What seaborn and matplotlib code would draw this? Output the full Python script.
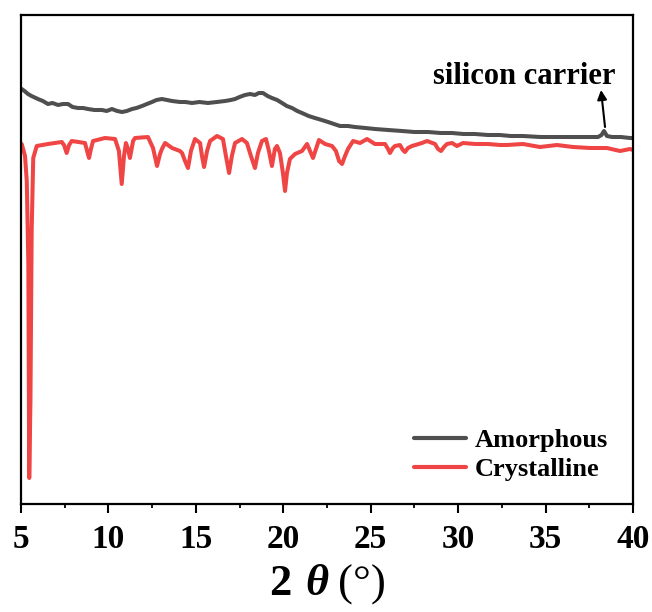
import numpy as np
import pandas as pd
import matplotlib
matplotlib.use("Agg")
import matplotlib.pyplot as plt
import seaborn as sns

# XRD patterns, intensity in arbitrary units
amorphous_2theta = [5.04, 5.20, 5.40, 5.60, 5.97, 6.25, 6.54, 6.80, 7.12, 7.40, 7.69, 7.95, 8.26,
                    8.55, 8.83, 9.20, 9.63, 9.90, 10.20, 10.50, 10.78, 11.05, 11.35, 11.60,
                    11.92, 12.20, 12.49, 12.75, 13.06, 13.35, 13.64, 14.09, 14.40, 14.78,
                    15.20, 15.69, 16.20, 16.67, 17.00, 17.24, 17.50, 17.81, 18.10, 18.38,
                    18.60, 18.84, 19.10, 19.35, 19.65, 19.93, 20.20, 20.50, 20.80, 21.07,
                    21.45, 21.81, 22.20, 22.56, 22.90, 23.24, 23.70, 24.10, 24.70, 25.24,
                    26.00, 26.79, 27.50, 28.28, 29.00, 29.65, 30.30, 30.96, 31.70, 32.39,
                    33.00, 33.71, 34.70, 35.65, 36.60, 37.54, 38.00, 38.20, 38.34, 38.51,
                    38.80, 39.30, 39.83, 40.00]
amorphous_int = [415, 413, 410, 408, 405, 403, 400, 401, 399, 400, 400, 397, 396,
                 396, 395, 394, 394, 393, 395, 393, 392, 393, 395, 396,
                 398, 400, 402, 404, 405, 404, 403, 402, 402, 401,
                 402, 401, 402, 403, 404, 405, 407, 409, 410, 409,
                 411, 411, 408, 406, 404, 401, 398, 396, 393, 391,
                 388, 386, 384, 382, 380, 378, 378, 377, 376, 375,
                 374, 373, 372, 372, 371, 371, 370, 370, 369, 369,
                 368, 368, 367, 367, 367, 367, 367, 369, 373, 368,
                 367, 367, 366, 366]

crystalline_2theta = [5.04, 5.23, 5.33, 5.42, 5.47, 5.54, 5.61, 5.70, 5.90, 6.54, 7.33, 7.46,
                      7.61, 7.75, 7.90, 8.66, 8.78, 8.89, 9.00, 9.12, 9.80, 10.38, 10.60,
                      10.76, 10.89, 11.00, 11.12, 11.23, 11.41, 11.52, 12.26, 12.55, 12.78,
                      12.95, 13.06, 13.24, 13.64, 14.09, 14.21, 14.38, 14.55, 14.72, 14.95,
                      15.24, 15.35, 15.47, 15.64, 15.81, 16.21, 16.55, 16.72, 16.90, 17.06,
                      17.24, 17.64, 17.92, 18.15, 18.38, 18.55, 18.78, 19.01, 19.18, 19.35,
                      19.52, 19.64, 19.81, 19.98, 20.10, 20.21, 20.38, 20.67, 21.07, 21.36,
                      21.53, 21.70, 21.87, 22.04, 22.39, 22.79, 23.01, 23.19, 23.36, 23.53,
                      23.70, 23.99, 24.39, 24.79, 25.24, 25.82, 25.99, 26.10, 26.27, 26.39,
                      26.67, 26.84, 26.96, 27.13, 27.36, 27.93, 28.22, 28.68, 28.85, 29.02,
                      29.19, 29.36, 29.65, 29.93, 30.28, 30.96, 31.71, 32.39, 32.79, 33.71,
                      34.68, 35.65, 36.57, 37.54, 38.51, 39.26, 39.83, 40.00]
crystalline_int = [360, 348, 323, 240, 26, 103, 273, 346, 358, 360, 362, 359,
                   351, 359, 363, 361, 353, 346, 355, 363, 366, 365, 353,
                   320, 348, 361, 355, 346, 363, 366, 367, 356, 338,
                   350, 355, 361, 356, 353, 351, 343, 336, 353, 365,
                   361, 348, 337, 353, 363, 368, 365, 348, 331, 348,
                   361, 365, 361, 348, 336, 351, 363, 365, 353, 338,
                   355, 358, 351, 331, 313, 331, 345, 350, 353, 360,
                   353, 346, 355, 364, 360, 358, 353, 343, 340, 348,
                   355, 363, 361, 365, 360, 360, 355, 351, 356, 358,
                   359, 354, 352, 356, 358, 361, 363, 360, 355, 353,
                   357, 360, 361, 358, 361, 360, 360, 359, 359, 360,
                   357, 359, 357, 356, 356, 353, 355, 354]

series_names = ["Amorphous", "Crystalline"]
series_colors = ["#4f4f4f", "#f04545"]

df = pd.concat([
    pd.DataFrame({"two_theta": amorphous_2theta, "intensity": amorphous_int, "sample": series_names[0]}),
    pd.DataFrame({"two_theta": crystalline_2theta, "intensity": crystalline_int, "sample": series_names[1]}),
], ignore_index=True)

sns.set_theme(style="white")
plt.rcParams["font.family"] = ["Liberation Serif", "DejaVu Serif"]
plt.rcParams["text.color"] = "black"
plt.rcParams["xtick.color"] = "black"
plt.rcParams["mathtext.fontset"] = "custom"
plt.rcParams["mathtext.rm"] = "Liberation Serif"
plt.rcParams["mathtext.bf"] = "Liberation Serif:bold"
plt.rcParams["mathtext.bfit"] = "Liberation Serif:italic:bold"
plt.rcParams["mathtext.it"] = "Liberation Serif:italic"

fig = plt.figure(figsize=(6.52, 6.12), dpi=100)
ax = fig.add_axes([21 / 652, 108 / 612, 612 / 652, 489 / 612])

sns.lineplot(data=df, x="two_theta", y="intensity", hue="sample",
             palette=dict(zip(series_names, series_colors)), linewidth=2.9,
             sort=False, estimator=None, ax=ax)

ax.set_xlim(5, 40)
ax.set_ylim(0, 489)
ax.set_xticks(np.arange(5, 41, 5))
ax.set_xticks(np.arange(7.5, 40, 5), minor=True)
ax.set_yticks([])
ax.tick_params(axis="x", which="major", direction="out", length=6.5, width=1.5,
               bottom=True, labelsize=24, pad=8, labelcolor="black")
ax.tick_params(axis="x", which="minor", direction="out", length=3.2, width=1.3, bottom=True)
for lbl in ax.get_xticklabels():
    lbl.set_fontweight("bold")
for sp in ax.spines.values():
    sp.set_linewidth(1.6)
    sp.set_color("black")

ax.set_ylabel("")
ax.set_xlabel(r"$\mathbf{2}\;\,\mathbfit{\theta}\;\mathrm{(°)}$", fontsize=32, labelpad=5,
              color="black")

ax.text(33.8, 420, "silicon carrier", ha="center", va="baseline",
        fontsize=22, fontweight="bold", color="black")
ax.annotate("", xy=(38.17, 414), xytext=(38.40, 377),
            arrowprops=dict(arrowstyle="-|>", color="black", lw=1.5,
                            mutation_scale=14, shrinkA=0, shrinkB=0))

leg = ax.legend(loc="lower right", bbox_to_anchor=(0.98, 0.02), frameon=False,
                prop={"weight": "bold", "size": 19}, handlelength=2.0,
                handletextpad=0.3, labelspacing=0.2, borderpad=0)
for line in leg.get_lines():
    line.set_linewidth(3)

fig.savefig("out.png", dpi=100)
